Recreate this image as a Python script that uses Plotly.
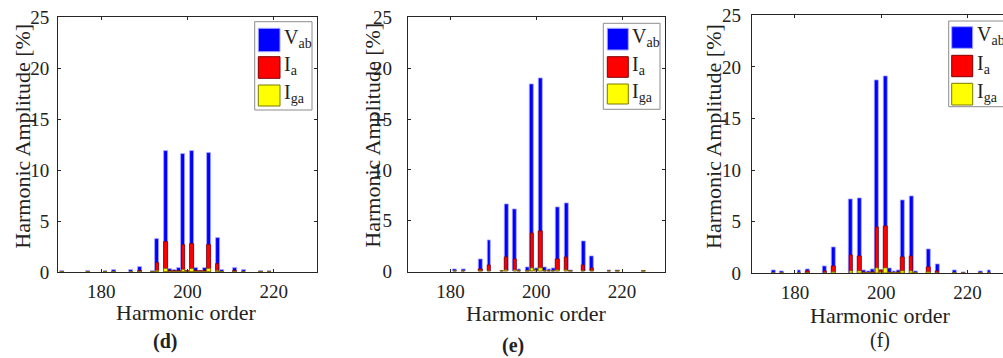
import plotly.graph_objects as go

W, H = 1003, 358

# ---------------- data ----------------
harm_d = [171, 177, 181, 183, 187, 189, 192, 193, 195, 196, 197, 198, 199, 200, 201, 202, 203, 204, 205, 207, 208, 211, 213, 217, 219]
vab_d = [0.13, 0.05, 0.1, 0.15, 0.15, 0.5, 0.1, 3.27, 11.87, 0.27, 0.2, 0.36, 11.6, 0.1, 11.9, 0.42, 0.1, 0.4, 11.7, 3.33, 0.15, 0.35, 0.15, 0.05, 0.1]
ia_d = [0, 0, 0, 0, 0, 0.05, 0, 0.85, 2.94, 0.05, 0.05, 0.05, 2.64, 0.1, 2.74, 0.05, 0.05, 0.05, 2.64, 0.78, 0.02, 0.05, 0.02, 0, 0]
iga_d = [0, 0, 0, 0, 0, 0, 0, 0.08, 0.27, 0, 0, 0, 0.23, 0.02, 0.25, 0, 0, 0, 0.25, 0.05, 0, 0, 0, 0, 0]

harm_e = [181, 183, 187, 189, 192, 193, 195, 196, 198, 199, 200, 201, 202, 203, 204, 205, 207, 208, 211, 213, 217, 219, 225]
vab_e = [0.26, 0.2, 1.22, 3.05, 0.05, 6.67, 6.17, 0.26, 0.4, 18.44, 0.3, 19.03, 0.4, 0.2, 0.3, 6.3, 6.68, 0.15, 3.03, 1.48, 0.15, 0.15, 0.07]
ia_e = [0.02, 0.02, 0.23, 0.66, 0.03, 1.41, 1.22, 0.03, 0.05, 3.78, 0.15, 4.0, 0.05, 0.03, 0.05, 1.18, 1.38, 0.02, 0.66, 0.3, 0.02, 0.02, 0]
iga_e = [0, 0, 0.03, 0.05, 0.05, 0.1, 0.1, 0, 0, 0.36, 0.1, 0.36, 0, 0, 0, 0.15, 0.15, 0, 0.03, 0.02, 0, 0, 0]

harm_f = [175, 177, 181, 183, 187, 189, 193, 195, 196, 197, 198, 199, 200, 201, 202, 203, 204, 205, 207, 208, 211, 213, 217, 219, 223, 225]
vab_f = [0.3, 0.2, 0.26, 0.39, 0.68, 2.5, 7.14, 7.3, 0.3, 0.15, 0.4, 18.75, 0.3, 19.1, 0.45, 0.2, 0.3, 7.1, 7.43, 0.2, 2.3, 0.84, 0.25, 0.1, 0.2, 0.3]
ia_f = [0.02, 0.02, 0.03, 0.15, 0.2, 0.68, 1.75, 1.69, 0.05, 0.03, 0.05, 4.42, 0.25, 4.51, 0.05, 0.03, 0.05, 1.59, 1.69, 0.03, 0.55, 0.2, 0.02, 0.02, 0.02, 0.03]
iga_f = [0, 0, 0, 0.02, 0.03, 0.1, 0.15, 0.15, 0, 0, 0, 0.45, 0.05, 0.48, 0, 0, 0, 0.15, 0.15, 0, 0.05, 0.03, 0, 0, 0, 0]

panel_labels = ["(d)", "(e)", "(f)"]
series_names = ["V<sub>ab</sub>", "I<sub>a</sub>", "I<sub>ga</sub>"]
y_ticks = [0, 5, 10, 15, 20, 25]
x_ticks = [180, 200, 220]
x_title = "Harmonic order"
y_title = "Harmonic Amplitude [%]"

# ---------------- styling / layout ----------------
FONT = "Liberation Serif, Times New Roman, serif"
TXT = "#222222"
AX = "#262626"
fill_cols = ["#0000ff", "#ff0000", "#ffff00"]
edge_cols = ["#a8a8ff", "#800000", "#7a7a00"]
bar_w = [0.9, 0.78, 0.78]


def px(x):
    return x / W


def py(y):
    return 1 - y / H


# plot-area pixel boxes: (left, right, top, bottom)
boxes = [(58, 317, 17, 272), (407.7, 665, 17.3, 271.7), (751.7, 1003, 15.3, 273.3)]
xranges = [[170, 230], [170, 230], [170, 228.2]]
standoffs = [4, 11, 6]

panels = [
    (harm_d, [vab_d, ia_d, iga_d]),
    (harm_e, [vab_e, ia_e, iga_e]),
    (harm_f, [vab_f, ia_f, iga_f]),
]

fig = go.Figure()
for i, (hx, series) in enumerate(panels):
    xa = "x" if i == 0 else f"x{i+1}"
    ya = "y" if i == 0 else f"y{i+1}"
    for k, vals in enumerate(series):
        fig.add_trace(go.Bar(
            x=hx, y=vals, width=bar_w[k], xaxis=xa, yaxis=ya,
            marker=dict(color=fill_cols[k], line=dict(color=edge_cols[k], width=0.8)),
            name=series_names[k], showlegend=False,
        ))

layout = dict(
    width=W, height=H, margin=dict(l=0, r=0, t=0, b=0, autoexpand=False),
    paper_bgcolor="white", plot_bgcolor="white",
    barmode="overlay", bargap=0,
    font=dict(family=FONT, color=TXT, size=19),
    showlegend=False,
)
for i in range(3):
    l, r, t, b = boxes[i]
    sx = "" if i == 0 else str(i + 1)
    layout[f"xaxis{sx}"] = dict(
        domain=[px(l), px(r)], range=xranges[i], anchor=f"y{sx}", automargin=False,
        tickvals=x_ticks, ticks="inside", ticklen=3, tickcolor=AX,
        showline=True, linecolor=AX, linewidth=1, mirror="ticks",
        showgrid=False, zeroline=False, ticklabelstandoff=2,
        tickfont=dict(family=FONT, size=19, color=TXT),
    )
    layout[f"yaxis{sx}"] = dict(
        domain=[py(b), py(t)], range=[0, 25], anchor=f"x{sx}", automargin=False,
        tickvals=y_ticks, ticks="inside", ticklen=3, tickcolor=AX,
        showline=True, linecolor=AX, linewidth=1,
        mirror=("ticks" if i < 2 else False),
        showgrid=False, zeroline=False, ticklabelstandoff=standoffs[i],
        tickfont=dict(family=FONT, size=19, color=TXT),
    )
fig.update_layout(**layout)

annotations = []
shapes = []

# axis titles and panel labels (pixel positions)
xt_pos = [(186.7, 312), (536, 313), (880, 315)]
yt_pos = [(21.7, 136), (371.7, 135), (713, 137)]
pl_pos = [(165, 341), (513, 345), (880, 340)]
for i in range(3):
    annotations.append(dict(text=x_title, x=px(xt_pos[i][0]), y=py(xt_pos[i][1]), xref="paper", yref="paper",
                            showarrow=False, xanchor="center", yanchor="middle",
                            font=dict(family=FONT, size=22, color=TXT)))
    annotations.append(dict(text=y_title, x=px(yt_pos[i][0]), y=py(yt_pos[i][1]), xref="paper", yref="paper",
                            showarrow=False, xanchor="center", yanchor="middle", textangle=-90,
                            font=dict(family=FONT, size=22, color=TXT)))
    lab = panel_labels[i] if i == 2 else f"<b>{panel_labels[i]}</b>"
    annotations.append(dict(text=lab, x=px(pl_pos[i][0]), y=py(pl_pos[i][1]), xref="paper", yref="paper",
                            showarrow=False, xanchor="center", yanchor="middle",
                            font=dict(family=FONT, size=20, color=TXT)))

# custom legends (pixel boxes)
legends = [
    dict(box=(254.7, 312, 21.7, 110), sq_x=(258.3, 280), sq_y=[(28.3, 51.7), (56.7, 78.3), (85, 106)], tx=282),
    dict(box=(603.3, 660, 23.3, 109.3), sq_x=(607.3, 628.3), sq_y=[(28.3, 50), (56.7, 77.3), (84, 104)], tx=630),
    dict(box=(948.7, 1010, 21, 106.7), sq_x=(951.7, 972.7), sq_y=[(26.7, 48.3), (55.3, 76.7), (83.3, 105)], tx=975),
]
for lg in legends:
    l, r, t, b = lg["box"]
    shapes.append(dict(type="rect", xref="paper", yref="paper", x0=px(l), x1=px(r), y0=py(b), y1=py(t),
                       line=dict(color="#8c8c8c", width=1), fillcolor="white", layer="above"))
    for k in range(3):
        y0, y1 = lg["sq_y"][k]
        shapes.append(dict(type="rect", xref="paper", yref="paper", x0=px(lg["sq_x"][0]), x1=px(lg["sq_x"][1]),
                           y0=py(y1), y1=py(y0), line=dict(color=edge_cols[k], width=1),
                           fillcolor=fill_cols[k], layer="above"))
        annotations.append(dict(text=series_names[k], x=px(lg["tx"]), y=py((y0 + y1) / 2 - 2),
                                xref="paper", yref="paper", showarrow=False,
                                xanchor="left", yanchor="middle",
                                font=dict(family=FONT, size=20, color=TXT)))

fig.update_layout(annotations=annotations, shapes=shapes)
fig.write_html("out.html")
